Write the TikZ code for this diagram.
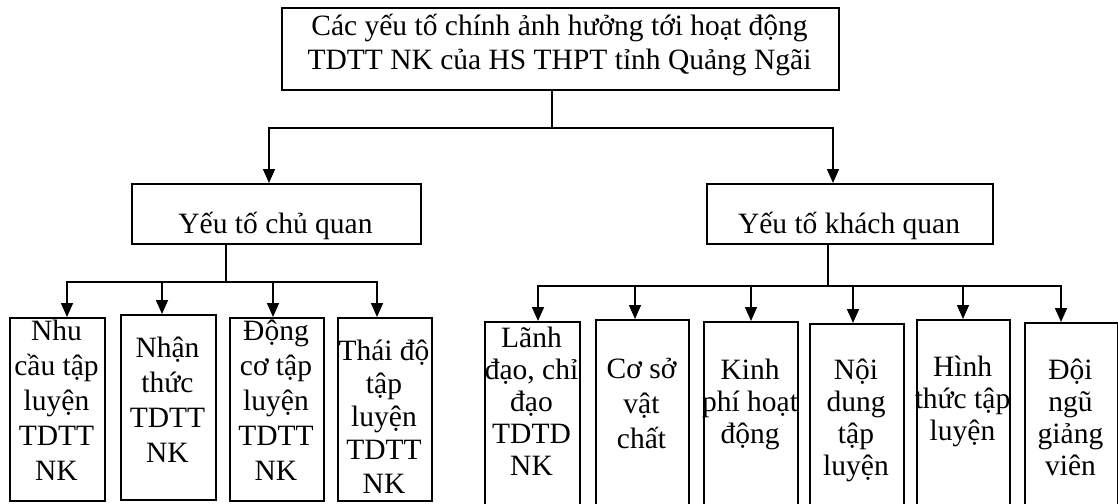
\documentclass[tikz,border=0pt]{standalone}
\usepackage{fontspec}
\setmainfont{Liberation Serif}
\usetikzlibrary{arrows.meta}
\newcommand{\mlines}[1]{\begin{tabular}[t]{@{}c@{}}#1\end{tabular}}
\begin{document}
\begin{tikzpicture}[x=1pt,y=-1pt,
  box/.style={draw, line width=1.6pt, inner sep=0pt, anchor=north west},
  txt/.style={inner sep=0pt, anchor=base},
  fa/.style={font=\fontsize{29.5}{35}\selectfont},
  fb/.style={font=\fontsize{29.5}{32}\selectfont},
  fc/.style={font=\fontsize{29.5}{34}\selectfont},
  fd/.style={font=\fontsize{29.5}{33.3}\selectfont},
  conn/.style={line width=1.6pt, line cap=rect},
  arr/.style={line width=1.6pt, -{Triangle[length=14pt,width=12pt]}}]
\useasboundingbox (0,0) rectangle (1118,503);
\clip (0,0) rectangle (1118,503);

% top
\node[box, minimum width=557pt, minimum height=82pt] (top) at (281,7) {};
\node[txt, fc] (toptxt) at (559.5,36) {\mlines{Các yếu tố chính ảnh hưởng tới hoạt động\\TDTT NK của HS THPT tỉnh Quảng Ngãi}};

% middle
\node[box, minimum width=289pt, minimum height=60pt] (chu) at (131,183) {};
\node[txt, fa] (chutxt) at (275.5,233) {Yếu tố chủ quan};
\node[box, minimum width=286pt, minimum height=60pt] (khach) at (706,183) {};
\node[txt, fa] (khachtxt) at (849,233) {Yếu tố khách quan};

% left group
\node[box, minimum width=95pt, minimum height=183pt] (b1) at (9,317) {};
\node[txt, fa] (t1) at (56.5,340) {\mlines{Nhu\\cầu tập\\luyện\\TDTT\\NK}};
\node[box, minimum width=95pt, minimum height=185pt] (b2) at (120,314) {};
\node[txt, fa] (t2) at (167.5,357) {\mlines{Nhận\\thức\\TDTT\\NK}};
\node[box, minimum width=94pt, minimum height=183pt] (b3) at (229,317) {};
\node[txt, fa] (t3) at (276,340) {\mlines{Động\\cơ tập\\luyện\\TDTT\\NK}};
\node[box, minimum width=94pt, minimum height=183pt] (b4) at (337,317) {};
\node[txt, fd] (t4) at (384,360) {\mlines{Thái độ\\tập\\luyện\\TDTT\\NK}};

% right group
\node[box, minimum width=95pt, minimum height=200pt] (c1) at (484,321) {};
\node[txt, fb] (u1) at (531.5,347) {\mlines{Lãnh\\đạo, chỉ\\đạo\\TDTD\\NK}};
\node[box, minimum width=93pt, minimum height=200pt] (c2) at (595,319) {};
\node[txt, fa] (u2) at (641.5,378) {\mlines{Cơ sở\\vật\\chất}};
\node[box, minimum width=94pt, minimum height=200pt] (c3) at (703,321) {};
\node[txt, fb] (u3) at (750,379) {\mlines{Kinh\\phí hoạt\\động}};
\node[box, minimum width=94pt, minimum height=200pt] (c4) at (809,323) {};
\node[txt, fb] (u4) at (856,379) {\mlines{Nội\\dung\\tập\\luyện}};
\node[box, minimum width=93pt, minimum height=200pt] (c5) at (916,319) {};
\node[txt, fb] (u5) at (962.5,376) {\mlines{Hình\\thức tập\\luyện}};
\node[box, minimum width=93pt, minimum height=200pt] (c6) at (1024,322) {};
\node[txt, fb] (u6) at (1070.5,379) {\mlines{Đội\\ngũ\\giảng\\viên}};

% connectors: top level
\coordinate (j0) at (552,128);
\coordinate (jl) at (269,128);
\coordinate (jr) at (833,128);
\draw[conn] (top.south -| j0) -- (j0);
\draw[conn] (jl) -- (jr);
\draw[arr] (jl) -- (jl |- chu.north);
\draw[arr] (jr) -- (jr |- khach.north);

% left group connectors
\coordinate (k0) at (226,282);
\coordinate (ka) at (67,282);
\coordinate (kb) at (162,282);
\coordinate (kc) at (273,282);
\coordinate (kd) at (377,282);
\draw[conn] (chu.south -| k0) -- (k0);
\draw[conn] (ka) -- (kd);
\draw[arr] (ka) -- (ka |- b1.north);
\draw[arr] (kb) -- (kb |- b2.north);
\draw[arr] (kc) -- (kc |- b3.north);
\draw[arr] (kd) -- (kd |- b4.north);

% right group connectors
\coordinate (m0) at (828,286);
\coordinate (ma) at (538,286);
\coordinate (mb) at (635,286);
\coordinate (mc) at (751,286);
\coordinate (md) at (853,286);
\coordinate (me) at (963,286);
\coordinate (mf) at (1061,286);
\draw[conn] (khach.south -| m0) -- (m0);
\draw[conn] (ma) -- (mf);
\draw[arr] (ma) -- (ma |- c1.north);
\draw[arr] (mb) -- (mb |- c2.north);
\draw[arr] (mc) -- (mc |- c3.north);
\draw[arr] (md) -- (md |- c4.north);
\draw[arr] (me) -- (me |- c5.north);
\draw[arr] (mf) -- (mf |- c6.north);
\end{tikzpicture}
\end{document}
